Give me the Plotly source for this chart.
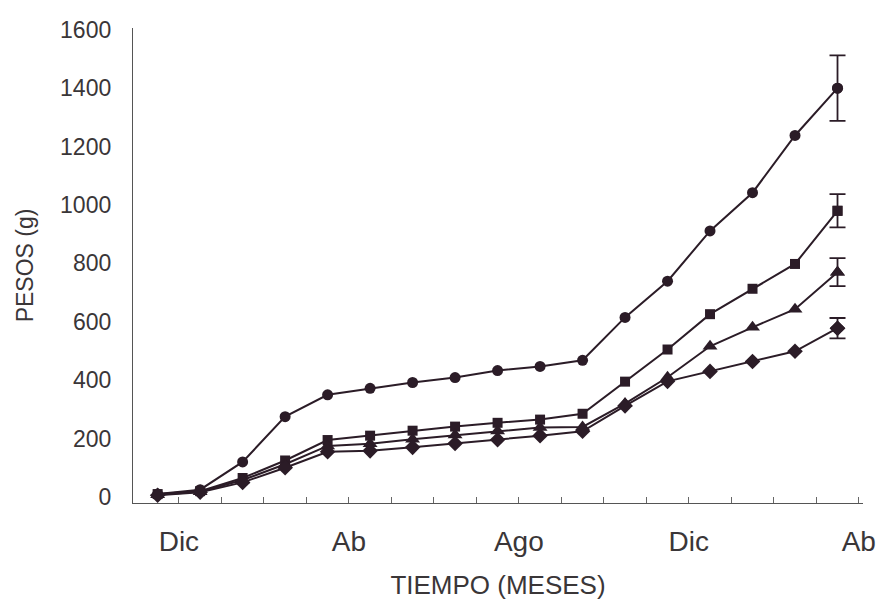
import plotly.graph_objects as go

# Monthly sampling: points sit mid-month between the month ticks
meses = [-0.5, 0.5, 1.5, 2.5, 3.5, 4.5, 5.5, 6.5, 7.5, 8.5, 9.5, 10.5, 11.5, 12.5, 13.5, 14.5, 15.5]

pesos_circulo = [10, 25, 120, 275, 350, 372, 392, 409, 433, 447, 468, 615, 739, 911, 1042, 1238, 1400]
pesos_cuadrado = [10, 20, 65, 125, 195, 210, 227, 241, 254, 265, 285, 395, 505, 626, 713, 798, 980]
pesos_triangulo = [8, 18, 58, 112, 175, 182, 198, 212, 226, 238, 240, 320, 410, 516, 581, 643, 770]
pesos_rombo = [6, 16, 50, 100, 155, 158, 170, 183, 196, 210, 225, 312, 396, 430, 464, 499, 578]

# Standard error at the final sampling
error_final = [112, 57, 48, 35]

tick_meses = list(range(0, 17))
tick_texto = ["Dic", "", "", "", "Ab", "", "", "", "Ago", "", "", "", "Dic", "", "", "", "Ab"]
y_ticks = [0, 200, 400, 600, 800, 1000, 1200, 1400, 1600]

tinta = "#2b1c27"
texto = "#3a3638"

series = [
    (pesos_circulo, "circle", 11),
    (pesos_cuadrado, "square", 10),
    (pesos_triangulo, "triangle-up", 13),
    (pesos_rombo, "diamond", 12),
]

fig = go.Figure()
for (valores, simbolo, tam), err in zip(series, error_final):
    fig.add_trace(go.Scatter(
        x=meses, y=valores, mode="lines+markers",
        line=dict(color=tinta, width=2),
        marker=dict(symbol=simbolo, size=tam, color=tinta),
        showlegend=False, hoverinfo="skip", cliponaxis=False,
    ))
    fig.add_trace(go.Scatter(
        x=[meses[-1]], y=[valores[-1]], mode="markers",
        marker=dict(symbol=simbolo, size=tam, color=tinta),
        error_y=dict(type="data", array=[err], color=tinta, thickness=1.8, width=8),
        showlegend=False, hoverinfo="skip", cliponaxis=False,
    ))

fig.update_layout(
    width=880, height=602,
    margin=dict(l=133, r=17, t=28, b=99),
    paper_bgcolor="white", plot_bgcolor="white",
    font=dict(family="Liberation Sans, Arial, sans-serif", size=23, color=texto),
    xaxis=dict(
        range=[-1.08, 16.1], tickmode="array", tickvals=tick_meses, ticktext=tick_texto,
        ticks="inside", ticklen=6, tickcolor="#666", tickwidth=1,
        showline=True, linecolor="#555", linewidth=1.3, showgrid=False, zeroline=False,
        tickfont=dict(size=28), ticklabelstandoff=13, automargin=False,
        title=dict(text="TIEMPO (MESES)", font=dict(size=26), standoff=20),
    ),
    yaxis=dict(
        range=[-20.6, 1606], tickmode="array", tickvals=y_ticks,
        ticks="", showline=True, linecolor="#555", linewidth=1.3,
        showgrid=False, zeroline=False, tickfont=dict(size=23), ticklabelstandoff=16,
        automargin=False,
        title=dict(text="PESOS (g)", font=dict(size=23), standoff=20),
    ),
)

fig.write_html("out.html")
